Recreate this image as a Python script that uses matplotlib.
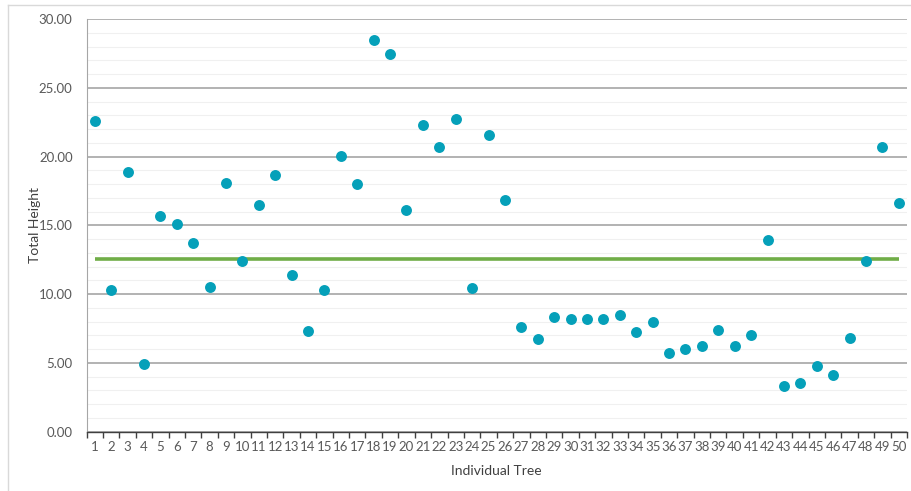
import matplotlib
matplotlib.use("Agg")
import matplotlib.pyplot as plt
from matplotlib.lines import Line2D
from matplotlib.ticker import MultipleLocator, FixedLocator
import numpy as np

trees = list(range(1, 51))
heights = [22.55, 10.3, 18.86, 4.9, 15.7, 15.07, 13.72, 10.54, 18.1, 12.41,
           16.48, 18.68, 11.41, 7.32, 10.3, 20.06, 17.98, 28.47, 27.43, 16.14,
           22.27, 20.67, 22.71, 10.42, 21.57, 16.84, 7.61, 6.74, 8.36, 8.22,
           8.17, 8.17, 8.51, 7.25, 7.97, 5.72, 6.04, 6.25, 7.39, 6.25,
           7.03, 13.91, 3.35, 3.56, 4.8, 4.14, 6.79, 12.41, 20.67, 16.6]
mean_height = float(np.mean(heights))
y_ticks = [0, 5, 10, 15, 20, 25, 30]

plt.rcParams['font.family'] = ['Lato', 'DejaVu Sans']
text_color = '#595959'

fig = plt.figure(figsize=(9.11, 4.91), dpi=100)
ax = fig.add_axes([86.5/911, 1-431.7/491, (907-86.5)/911, (431.7-19)/491])

ax.set_xlim(0.5, 50.5)
ax.set_ylim(0, 30)

# grid
ax.yaxis.set_major_locator(FixedLocator(y_ticks))
ax.yaxis.set_minor_locator(MultipleLocator(1))
ax.grid(axis='y', which='major', color='#a6a6a6', linewidth=1.2, zorder=0)
ax.grid(axis='y', which='minor', color='#f0f0f0', linewidth=0.8, zorder=0)
ax.set_axisbelow(True)

# mean line
ax.plot([trees[0], trees[-1]], [mean_height, mean_height], color='#70ad47',
        linewidth=2.6, zorder=2, solid_capstyle='butt')

ax.scatter(trees, heights, s=62, color='#05a0b9', zorder=3, linewidths=0)

# spines
for s in ['top', 'right']:
    ax.spines[s].set_visible(False)
ax.spines['left'].set_color('#a6a6a6')
ax.spines['bottom'].set_color('#404040')
ax.spines['bottom'].set_linewidth(1.0)

ax.set_yticklabels([f"{v:.2f}" for v in y_ticks])
ax.tick_params(axis='y', which='both', length=0, labelsize=9.5, labelcolor=text_color, pad=10)

# x: labels at categories, ticks at boundaries
ax.set_xticks(trees)
ax.set_xticklabels([str(t) for t in trees])
ax.set_xticks(np.arange(0.5, 51, 1.0), minor=True)
ax.tick_params(axis='x', which='major', length=0, labelsize=9.5, labelcolor=text_color, pad=7)
ax.tick_params(axis='x', which='minor', length=4, direction='out', color='#404040', width=1.0)

ax.set_xlabel('Individual Tree', fontsize=10, color='#404040', labelpad=8)
ax.set_ylabel('Total Height', fontsize=10, color='#404040', labelpad=-1.5)

# outer frame lines
fig.add_artist(Line2D([8/911, 1], [1-5/491, 1-5/491], transform=fig.transFigure,
                      color='#d9d9d9', linewidth=1.0))
fig.add_artist(Line2D([8/911, 8/911], [0, 1-5/491], transform=fig.transFigure,
                      color='#d9d9d9', linewidth=1.0))

fig.savefig('out.png', dpi=100, facecolor='white')
